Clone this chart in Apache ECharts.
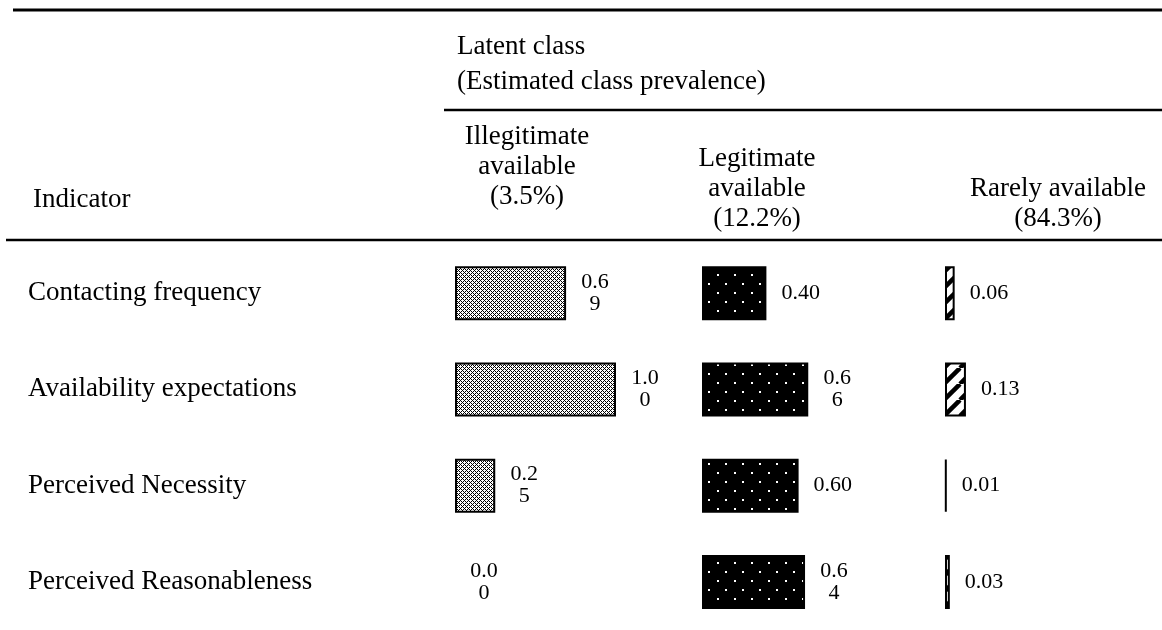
<!DOCTYPE html>
<html>
<head>
<meta charset="utf-8">
<script src="https://cdn.jsdelivr.net/npm/echarts@6/dist/echarts.min.js"></script>
<style>
  html, body { margin: 0; padding: 0; background: #fff; }
  #chart { width: 1162px; height: 630px; }
</style>
</head>
<body>
<div id="chart"></div>
<script>
const indicators = ['Contacting frequency', 'Availability expectations', 'Perceived Necessity', 'Perceived Reasonableness']
const classNames = ['Illegitimate\navailable\n(3.5%)', 'Legitimate\navailable\n(12.2%)', 'Rarely available\n(84.3%)']
const illegitimate = [0.69, 1.00, 0.25, 0.00]
const legitimate = [0.40, 0.66, 0.60, 0.64]
const rarely = [0.06, 0.13, 0.01, 0.03]
// which labels broke onto two lines in the source table
const illegitimateWrap = [true, true, true, true]
const legitimateWrap = [false, true, false, true]
const rarelyWrap = [false, false, false, false]

const FONT = '"Liberation Serif", "Times New Roman", serif'

const makeTile = (w, h, draw) => {
  const c = document.createElement('canvas')
  c.width = w
  c.height = h
  draw(c.getContext('2d'), w, h)
  return { image: c, repeat: 'repeat' }
}

const lightDots = makeTile(4, 4, (ctx, w, h) => {
  ctx.fillStyle = '#fff'
  ctx.fillRect(0, 0, w, h)
  ctx.fillStyle = '#000'
  ;[[0, 0], [2, 2], [1, 1], [3, 3], [1, 3], [3, 1]].forEach(([x, y]) => ctx.fillRect(x, y, 1, 1))
})

const darkDots = makeTile(17, 18, (ctx, w, h) => {
  ctx.fillStyle = '#000'
  ctx.fillRect(0, 0, w, h)
  ctx.fillStyle = '#fff'
  ctx.fillRect(3, 4, 2, 2)
  ctx.fillRect(11, 13, 2, 2)
})

const stripes = makeTile(16, 16, (ctx, w, h) => {
  ctx.fillStyle = '#fff'
  ctx.fillRect(0, 0, w, h)
  ctx.strokeStyle = '#000'
  ctx.lineWidth = 4.5
  ;[-16, 0, 16].forEach((o) => {
    ctx.beginPath()
    ctx.moveTo(o, h)
    ctx.lineTo(o + w, 0)
    ctx.stroke()
  })
})

const columns = [
  { values: illegitimate, wrap: illegitimateWrap, fill: lightDots, left: 455 },
  { values: legitimate, wrap: legitimateWrap, fill: darkDots, left: 702 },
  { values: rarely, wrap: rarelyWrap, fill: stripes, left: 945 },
]

const labelText = (v, wrap) => {
  const s = v.toFixed(2)
  return wrap ? s.slice(0, 3) + '\n' + s.slice(3) : s
}

const grids = columns.map((c) => ({ left: c.left, top: 245, width: 161, height: 400 }))

const xAxes = columns.map((c, i) => ({ type: 'value', gridIndex: i, min: 0, max: 1, show: false }))

const yAxes = columns.map((c, i) => ({
  type: 'category',
  gridIndex: i,
  data: indicators,
  inverse: true,
  axisLine: { show: false },
  axisTick: { show: false },
  splitLine: { show: false },
  axisLabel: {
    show: i === 0,
    align: 'left',
    margin: 427,
    color: '#000',
    fontFamily: FONT,
    fontSize: 27,
  },
}))

const series = columns.map((c, i) => ({
  type: 'bar',
  xAxisIndex: i,
  yAxisIndex: i,
  barWidth: 54,
  data: c.values.map((v, j) => ({
    value: v,
    itemStyle: { borderWidth: v === 0 ? 0 : 2 },
    label: c.wrap[j] ? { align: 'center', offset: [14, 0] } : {},
  })),
  itemStyle: { color: c.fill, borderColor: '#000', borderWidth: 2 },
  label: {
    show: true,
    position: 'right',
    distance: 15,
    color: '#000',
    fontFamily: FONT,
    fontSize: 22,
    lineHeight: 22,
    formatter: (p) => labelText(p.value, c.wrap[p.dataIndex]),
  },
  animation: false,
}))

const headerText = (x, y, text, align) => ({
  type: 'text',
  x,
  y,
  style: {
    text,
    fill: '#000',
    font: '27px ' + FONT,
    lineHeight: 30,
    align: align || 'center',
    verticalAlign: 'bottom',
  },
})

const hline = (x1, x2, y, w) => ({
  type: 'line',
  shape: { x1, y1: y, x2, y2: y },
  style: { stroke: '#000', lineWidth: w },
})

const chart = echarts.init(document.getElementById('chart'))
chart.setOption({
  backgroundColor: '#fff',
  animation: false,
  grid: grids,
  xAxis: xAxes,
  yAxis: yAxes,
  series,
  graphic: [
    hline(13, 1162, 10, 3),
    hline(444, 1162, 110, 2.5),
    hline(6, 1162, 240, 2.5),
    headerText(457, 62, 'Latent class', 'left'),
    headerText(457, 97, '(Estimated class prevalence)', 'left'),
    headerText(33, 215, 'Indicator', 'left'),
    headerText(527, 212, classNames[0]),
    headerText(757, 234, classNames[1]),
    headerText(1058, 234, classNames[2]),
  ],
})
</script>
</body>
</html>
